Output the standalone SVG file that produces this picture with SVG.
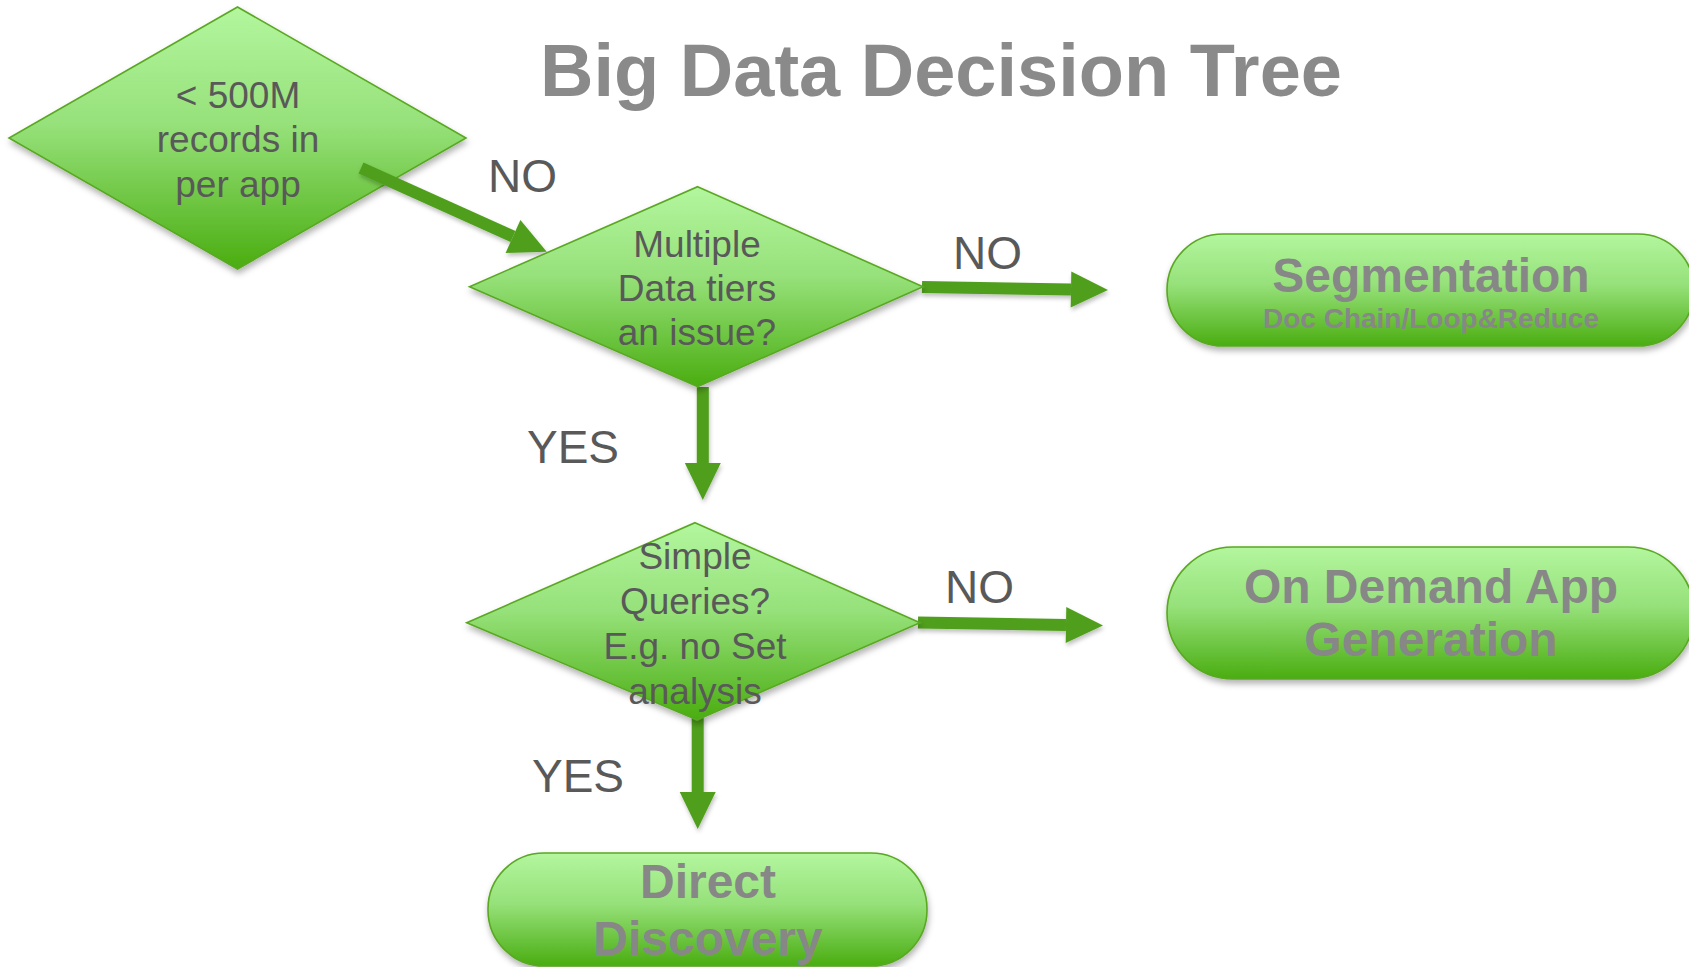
<svg xmlns="http://www.w3.org/2000/svg" width="1689" height="967" viewBox="0 0 1689 967">
  <style>
    .shape { fill: url(#gGreen); stroke: #5aa824; stroke-width: 1.6; filter: url(#shadow); }
    .qtext { font-family: "Liberation Sans", Arial, sans-serif; font-size: 37px; fill: #595959; text-anchor: middle; }
    .lbl { font-family: "Liberation Sans", Arial, sans-serif; font-size: 46px; fill: #595959; }
    .term { font-family: "Liberation Sans", Arial, sans-serif; font-weight: bold; font-size: 48px; fill: #878787; text-anchor: middle; }
    .sub { font-family: "Liberation Sans", Arial, sans-serif; font-weight: bold; font-size: 28px; fill: #878787; text-anchor: middle; }
    .title { font-family: "Liberation Sans", Arial, sans-serif; font-weight: bold; font-size: 74px; fill: #8a8a8a; text-anchor: middle; }
    .conn { stroke: #4f9f1c; stroke-width: 12; fill: none; marker-end: url(#head); }
  </style>
  <defs>
    <linearGradient id="gGreen" x1="0" y1="0" x2="0" y2="1">
      <stop offset="0" stop-color="#b3f69e"/>
      <stop offset="0.45" stop-color="#96e17a"/>
      <stop offset="1" stop-color="#4aad10"/>
    </linearGradient>
    <filter id="shadow" x="-10%" y="-10%" width="120%" height="130%">
      <feDropShadow dx="1" dy="4" stdDeviation="3" flood-color="#000" flood-opacity="0.3"/>
    </filter>
    <filter id="ashadow" filterUnits="userSpaceOnUse" x="0" y="0" width="1689" height="967">
      <feDropShadow dx="1" dy="3" stdDeviation="2" flood-color="#000" flood-opacity="0.25"/>
    </filter>
    <marker id="head" markerUnits="userSpaceOnUse" markerWidth="37" markerHeight="36" refX="0" refY="18" orient="auto" overflow="visible">
      <path d="M0,0 L37,18 L0,36 Z" fill="#4f9f1c"/>
    </marker>
  </defs>

  <rect width="1689" height="967" fill="#ffffff"/>

  <text class="title" x="941" y="96">Big Data Decision Tree</text>

  <g id="q1">
    <polygon class="shape" points="237.5,7 466,138 237.5,269 9,138"/>
    <text class="qtext" x="238" y="108">&lt; 500M</text>
    <text class="qtext" x="238" y="152">records in</text>
    <text class="qtext" x="238" y="197">per app</text>
  </g>

  <g id="connectors" filter="url(#ashadow)">
    <line class="conn" x1="361" y1="168" x2="513" y2="236.5"/>
    <line class="conn" x1="922" y1="287" x2="1071" y2="289.5"/>
    <line class="conn" x1="702.8" y1="387" x2="702.8" y2="463"/>
    <line class="conn" x1="918" y1="622.6" x2="1066" y2="625"/>
    <line class="conn" x1="697.7" y1="716" x2="697.7" y2="792"/>
  </g>

  <g id="q2">
    <polygon class="shape" points="697.6,186.7 923,286.7 697.6,386.7 469.5,286.7"/>
    <text class="qtext" x="697" y="257">Multiple</text>
    <text class="qtext" x="697" y="301">Data tiers</text>
    <text class="qtext" x="697" y="345">an issue?</text>
  </g>

  <g id="q3">
    <polygon class="shape" points="695,522.7 920,622.7 697,720 466.7,622.7"/>
    <text class="qtext" x="695" y="569">Simple</text>
    <text class="qtext" x="695" y="614">Queries?</text>
    <text class="qtext" x="695" y="659">E.g. no Set</text>
    <text class="qtext" x="695" y="704">analysis</text>
  </g>

  <g id="labels">
    <text class="lbl" x="488" y="192">NO</text>
    <text class="lbl" x="953" y="269">NO</text>
    <text class="lbl" x="527" y="463">YES</text>
    <text class="lbl" x="945" y="603">NO</text>
    <text class="lbl" x="532" y="792">YES</text>
  </g>

  <g id="segmentation">
    <rect class="shape" x="1167" y="234" width="527" height="112" rx="56" ry="56"/>
    <text class="term" x="1431" y="292">Segmentation</text>
    <text class="sub" x="1431" y="328">Doc Chain/Loop&amp;Reduce</text>
  </g>

  <g id="ondemand">
    <rect class="shape" x="1167" y="547" width="527" height="132" rx="66" ry="66"/>
    <text class="term" x="1431" y="603">On Demand App</text>
    <text class="term" x="1431" y="656">Generation</text>
  </g>

  <g id="directdiscovery">
    <rect class="shape" x="488" y="853" width="439" height="113" rx="56" ry="56"/>
    <text class="term" x="708" y="898">Direct</text>
    <text class="term" x="708" y="955">Discovery</text>
  </g>
</svg>
